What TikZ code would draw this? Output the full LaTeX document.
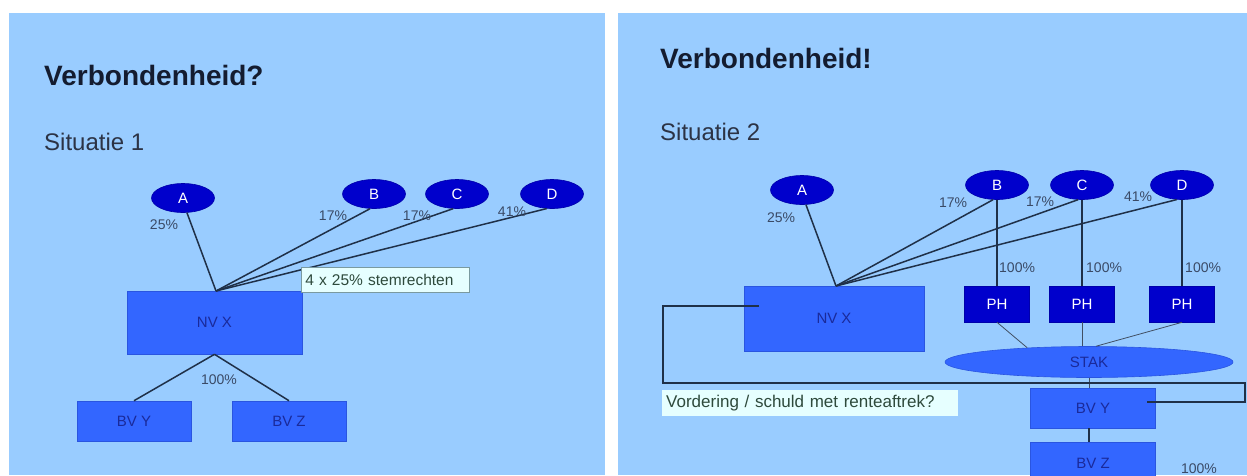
\documentclass[tikz,border=0pt]{standalone}
\usepackage{fontspec}
\setmainfont{Liberation Sans}
\usetikzlibrary{shapes.geometric}
\definecolor{panel}{HTML}{99CCFF}
\definecolor{boxblue}{HTML}{3366FF}
\definecolor{boxedge}{HTML}{2A55E0}
\definecolor{ovblue}{HTML}{0000CC}
\definecolor{ovedge}{HTML}{0000AA}
\definecolor{lab}{HTML}{1A2A9A}
\definecolor{pctc}{HTML}{3A4A66}
\definecolor{linec}{HTML}{1F3048}
\definecolor{notefill}{HTML}{E6FFFF}
\definecolor{noteedge}{HTML}{7A9AA0}
\definecolor{notetext}{HTML}{2E4A3C}
\definecolor{titlec}{HTML}{141C30}
\tikzset{
  fs/.style={font=\fontsize{#1}{#1}\selectfont},
  bx/.style={rectangle, fill=boxblue, draw=boxedge, line width=0.6pt, inner sep=0pt, fs=15, text=lab},
  ov/.style={ellipse, fill=ovblue, draw=ovedge, line width=0.6pt, inner sep=0pt, fs=15, text=white, minimum width=63pt, minimum height=29pt},
  phbox/.style={rectangle, fill=ovblue, draw=ovedge, line width=0.6pt, inner sep=0pt, fs=15, text=white, minimum width=65pt, minimum height=36pt},
  pct/.style={fs=14, text=pctc, inner sep=0pt},
  link/.style={draw=linec, line width=1.5pt},
  thinlink/.style={draw=linec!85, line width=0.8pt},
  note/.style={rectangle, fill=notefill, inner sep=0pt, text=notetext, anchor=north west},
  ttl/.style={font=\fontsize{28}{28}\selectfont\bfseries, text=titlec, anchor=base west, inner sep=0pt},
  sub/.style={fs=24, text=titlec!90, anchor=base west, inner sep=0pt},
}
\begin{document}
\begin{tikzpicture}[x=1pt,y=-1pt]
\useasboundingbox (0,0) rectangle (1247,475);
\fill[white] (0,0) rectangle (1247,475);
\fill[panel] (9,13) rectangle (605,475);
\fill[panel] (618,13) rectangle (1247,475);

% ---------------- Left panel ----------------
\node[ttl] (t1) at (44,85) {Verbondenheid?};
\node[sub] (s1) at (44,150) {Situatie 1};

\node[ov] (A1) at (183,198) {A};
\node[ov] (B1) at (374,194) {B};
\node[ov] (C1) at (457,194) {C};
\node[ov] (D1) at (552,194) {D};

\node[bx, minimum width=175pt, minimum height=63pt] (X1) at (214.5,322.5) {NV X};
\node[bx, minimum width=114pt, minimum height=40pt] (Y1) at (134,421) {BV Y};
\node[bx, minimum width=114pt, minimum height=40pt] (Z1) at (289,421) {BV Z};

\coordinate (P1) at (216,291);
\draw[link] (A1.285) -- (P1);
\draw[link] (B1.255) -- (P1);
\draw[link] (C1.255) -- (P1);
\draw[link] (D1.250) -- (P1);
\draw[link] (X1.south) -- (Y1.north);
\draw[link] (X1.south) -- (Z1.north);

\node[note, draw=noteedge, line width=0.6pt, minimum width=167pt, minimum height=25pt, fs=15.5, text width=160pt, align=left, inner xsep=4pt] (n1) at (301,267) {4 x 25\% stemrechten};

\node[pct] (p1a) at (164,225) {25\%};
\node[pct] (p1b) at (333,216) {17\%};
\node[pct] (p1c) at (417,216) {17\%};
\node[pct] (p1d) at (512,212) {41\%};
\node[pct] (p1e) at (219,380) {100\%};

% ---------------- Right panel ----------------
\node[ttl] (t2) at (660,68) {Verbondenheid!};
\node[sub] (s2) at (660,140) {Situatie 2};

\node[ov] (A2) at (802,190) {A};
\node[ov] (B2) at (997,185) {B};
\node[ov] (C2) at (1082,185) {C};
\node[ov] (D2) at (1182,185) {D};

\node[bx, minimum width=180pt, minimum height=65pt] (X2) at (834,318.5) {NV X};
\node[phbox] (H1) at (997,304) {PH};
\node[phbox] (H2) at (1082,304) {PH};
\node[phbox] (H3) at (1182,304) {PH};
\node[ellipse, fill=boxblue, draw=boxedge, line width=0.6pt, inner sep=0pt, fs=15, text=lab, minimum width=288pt, minimum height=31pt] (S2) at (1089,362) {STAK};
\node[bx, minimum width=125pt, minimum height=40pt] (Y2) at (1093,408) {BV Y};
\node[bx, minimum width=125pt, minimum height=42pt] (Z2) at (1093,463) {BV Z};

\coordinate (P2) at (836,286);
\draw[link] (A2.285) -- (P2);
\draw[link] (B2.255) -- (P2);
\draw[link] (C2.255) -- (P2);
\draw[link] (D2.250) -- (P2);
\draw[link] (B2.south) -- (H1.north);
\draw[link] (C2.south) -- (H2.north);
\draw[link] (D2.south) -- (H3.north);

\draw[thinlink] (H1.south) -- (S2.167);
\draw[thinlink] (H2.south) -- (H2.south |- S2.north);
\draw[thinlink] (H3.south) -- (S2.66);
\draw[thinlink] (S2.south) -- (S2.south |- Y2.north);
\draw[link] (S2.south |- Y2.south) -- (S2.south |- Z2.north);

\coordinate (L0) at (759,306);
\coordinate (L5) at (1147,402);
\draw[link] (L0) -| (663,383) -| (1245,402) -- (L5);

\node[note, minimum width=296pt, minimum height=26pt, fs=17, text width=288pt, align=left, inner xsep=4pt] (n2) at (662,390) {Vordering / schuld met renteaftrek?};

\node[pct] (p2a) at (781,218) {25\%};
\node[pct] (p2b) at (953,203) {17\%};
\node[pct] (p2c) at (1040,202) {17\%};
\node[pct] (p2d) at (1138,197) {41\%};
\node[pct, anchor=west] (p2e) at (999,268) {100\%};
\node[pct, anchor=west] (p2f) at (1086,268) {100\%};
\node[pct, anchor=west] (p2g) at (1185,268) {100\%};
\node[pct] (p2h) at (1199,469) {100\%};
\end{tikzpicture}
\end{document}
